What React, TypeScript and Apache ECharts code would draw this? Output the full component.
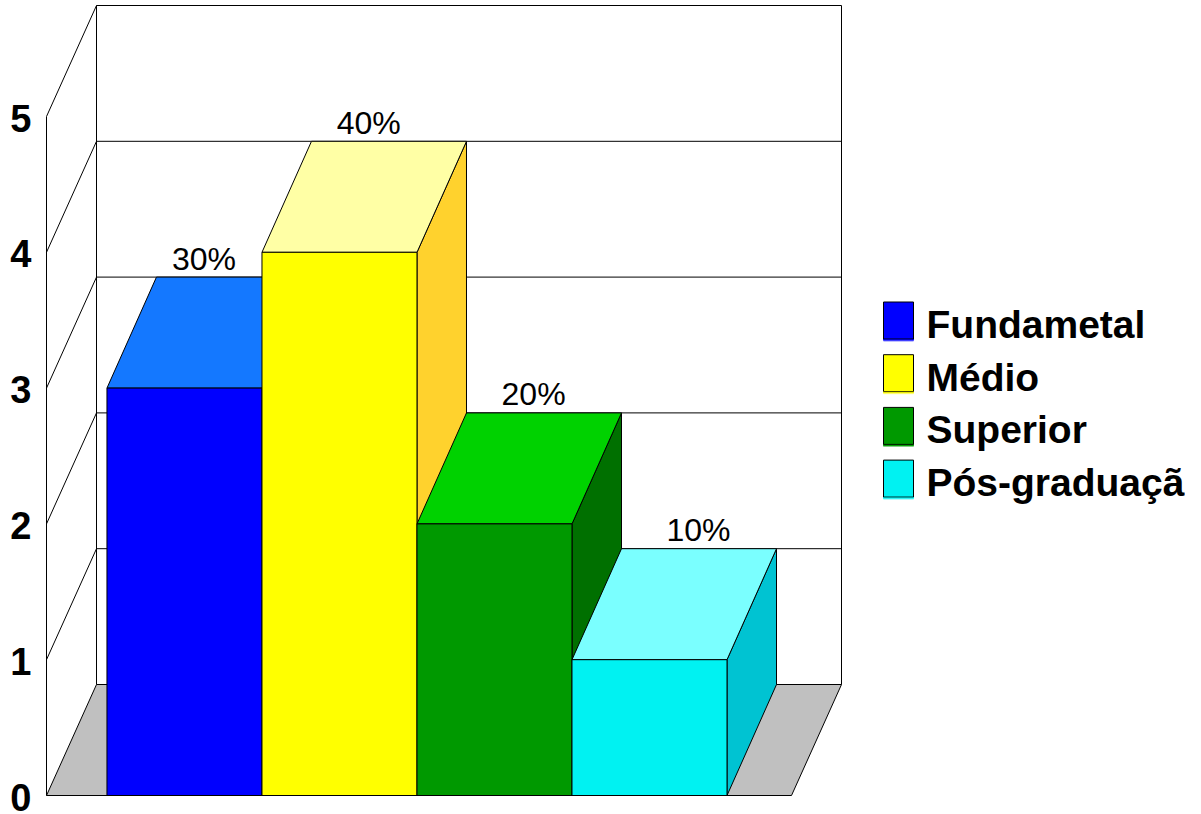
import React, { useEffect, useRef } from "react";
import * as echarts from "echarts";

// One column per education level; heights are headcounts, labels are their share of the total.
const seriesNames = ["Fundametal", "Médio", "Superior", "Pós-graduação"];
const seriesValues = [3, 4, 2, 1];
const frontColors = ["#0000ff", "#ffff00", "#009900", "#00f2f2"];
const topColors = ["#1478ff", "#ffffa5", "#00d200", "#7affff"];
const sideColors = ["#0000c8", "#ffd22d", "#007000", "#00c3d2"];
const valueTicks = [0, 1, 2, 3, 4, 5];
const total = seriesValues.reduce((a, b) => a + b, 0);

const FONT = "'Liberation Sans', Arial, sans-serif";
// Oblique projection offset from the front plane to the back wall.
const WALL_DEPTH_X = 50;
const BOX_DEPTH_X = 49.5;
const DEPTH_Y = -111;
const LINE = "#000000";

const poly = (points: number[][], fill: string, lineWidth = 1) => ({
  type: "polygon",
  shape: { points },
  style: { fill, stroke: LINE, lineWidth },
});
const seg = (a: number[], b: number[], lineWidth = 1) => ({
  type: "line",
  shape: { x1: a[0], y1: a[1], x2: b[0], y2: b[1] },
  style: { stroke: LINE, lineWidth, fill: "none" },
});
const wallBack = (p: number[]) => [p[0] + WALL_DEPTH_X, p[1] + DEPTH_Y];
const boxBack = (p: number[]) => [p[0] + BOX_DEPTH_X, p[1] + DEPTH_Y];

// Walls, floor and gridlines of the 3D box.
const renderFrame = (_: any, api: any) => {
  const xMin = api.value(0);
  const xMax = api.value(1);
  const children: any[] = [];
  const f0 = api.coord([xMin, 0]);
  const f1 = api.coord([xMax, 0]);
  children.push(poly([f0, f1, wallBack(f1), wallBack(f0)], "#c0c0c0"));
  valueTicks.forEach((t) => {
    const l = api.coord([xMin, t]);
    const r = api.coord([xMax, t]);
    if (t > 0) {
      children.push(seg(l, wallBack(l), 1));
      children.push(seg(wallBack(l), wallBack(r), 1));
    }
  });
  const top = valueTicks[valueTicks.length - 1];
  const tl = api.coord([xMin, top]);
  const tr = api.coord([xMax, top]);
  children.push(seg(f0, tl, 1));
  children.push(seg(wallBack(f0), wallBack(tl), 1));
  children.push(seg(wallBack(f1), wallBack(tr), 1));
  return { type: "group", children };
};

// One extruded column: front face, top, right side and its percentage label.
const renderBox = (_: any, api: any) => {
  const slot = api.value(0);
  const value = api.value(1);
  const a = api.coord([slot, 0]);
  const b = api.coord([slot + 1, 0]);
  const c = api.coord([slot + 1, value]);
  const d = api.coord([slot, value]);
  const labelX = (d[0] + c[0]) / 2 + 19.5 + 9.8 * slot;
  return {
    type: "group",
    children: [
      poly([b, boxBack(b), boxBack(c), c], sideColors[slot]),
      poly([d, c, boxBack(c), boxBack(d)], topColors[slot]),
      poly([a, b, c, d], frontColors[slot], 1),
      {
        type: "text",
        style: {
          text: `${Math.round((value / total) * 100)}%`,
          x: labelX,
          y: boxBack(d)[1] - 18.5,
          fill: "#000000",
          fontSize: 32,
          fontFamily: FONT,
          textAlign: "center",
          textVerticalAlign: "middle",
        },
      },
    ],
  };
};

export default function App() {
  const ref = useRef<HTMLDivElement>(null);

  useEffect(() => {
    if (!ref.current) return;
    const chart = echarts.init(ref.current, undefined, { renderer: "svg" });
    const xMin = -0.39;
    const xMax = 4.416;
    chart.setOption({
      animation: false,
      backgroundColor: "#ffffff",
      grid: { left: 46.5, top: 116.5, width: 745, height: 679, outerBoundsMode: "none" },
      xAxis: { type: "value", min: xMin, max: xMax, show: false },
      yAxis: {
        type: "value",
        min: 0,
        max: 5,
        interval: 1,
        axisLine: { show: false },
        axisTick: { show: false },
        splitLine: { show: false },
        axisLabel: {
          margin: 15,
          formatter: "{v|{value}}",
          rich: {
            v: {
              color: "#000000",
              fontSize: 38,
              fontWeight: "bold",
              fontFamily: FONT,
              lineHeight: 30,
              padding: [4, 0, 0, 0],
            },
          },
        },
      },
      legend: {
        left: 883,
        top: 297,
        orient: "vertical",
        padding: 0,
        itemWidth: 30,
        itemHeight: 37,
        itemGap: 5.7,
        selectedMode: false,
        icon: "rect",
        formatter: (name: string) => `{t|${name}}`,
        textStyle: {
          rich: {
            t: {
              color: "#000000",
              fontSize: 39,
              fontWeight: "bold",
              fontFamily: FONT,
              lineHeight: 39,
              padding: [8, 0, 0, 8],
            },
          },
        },
        data: seriesNames.map((name, i) => ({
          name,
          itemStyle: {
            borderColor: "#000000",
            borderWidth: 1,
            shadowColor: frontColors[i],
            shadowBlur: 0,
            shadowOffsetY: 1.5,
          },
        })),
      },
      series: [
        {
          type: "custom",
          name: "frame",
          renderItem: renderFrame,
          data: [[xMin, xMax]],
          encode: { x: 0 },
          silent: true,
        },
        ...seriesNames.map((name, i) => ({
          type: "custom",
          name,
          renderItem: renderBox,
          itemStyle: { color: frontColors[i] },
          data: [[i, seriesValues[i]]],
          encode: { x: 0, y: 1 },
          silent: true,
        })),
      ],
    });
    return () => chart.dispose();
  }, []);

  // The drawing surface stops short of the window, so the longest legend entry runs off its edge.
  return (
    <div
      ref={ref}
      style={{ position: "absolute", left: 0, top: 0, width: 1185, height: 814, background: "#ffffff" }}
    />
  );
}
